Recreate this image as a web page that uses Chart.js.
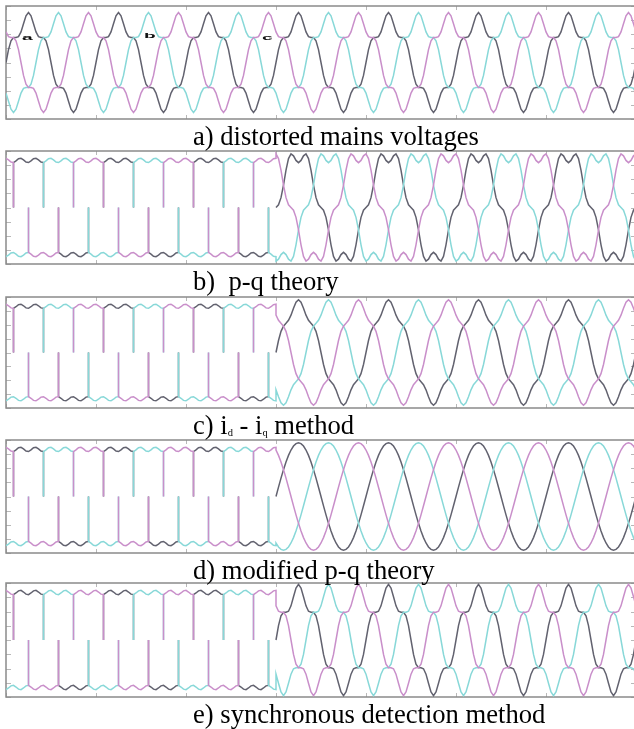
<!DOCTYPE html>
<html>
<head>
<meta charset="utf-8">
<script src="https://cdn.jsdelivr.net/npm/chart.js@4.4.1/dist/chart.umd.min.js"></script>
<style>
html, body { margin: 0; padding: 0; background: #fff; overflow: hidden; width: 634px; height: 729px; }
canvas { position: absolute; left: 0; }
.cap { position: absolute; left: 193px; font-family: "Liberation Serif", "Times New Roman", serif; font-size: 28px; line-height: 28px; color: #000; white-space: pre; transform: scaleX(0.95); transform-origin: 0 0; }
.cap sub { font-size: 11px; vertical-align: -2px; line-height: 0; }
.lbl { position: absolute; font: bold 12px "Liberation Sans", Arial, sans-serif; color: #111; transform: scale(1.6, 0.6); transform-origin: 0 0; }
</style>
</head>
<body>
<canvas id="pa" width="640" height="117" style="top:4px"></canvas>
<canvas id="pb" width="640" height="117" style="top:149px"></canvas>
<canvas id="pc" width="640" height="115" style="top:295px"></canvas>
<canvas id="pd" width="640" height="117" style="top:438px"></canvas>
<canvas id="pe" width="640" height="118" style="top:581px"></canvas>

<div class="cap" style="top:122px">a) distorted mains voltages</div>
<div class="cap" style="top:267px">b)  p-q theory</div>
<div class="cap" style="top:411px">c) i<sub>d</sub> - i<sub>q</sub> method</div>
<div class="cap" style="top:556px">d) modified p-q theory</div>
<div class="cap" style="top:700px">e) synchronous detection method</div>

<span class="lbl" style="left:22px;top:33px">a</span>
<span class="lbl" style="left:144px;top:31px">b</span>
<span class="lbl" style="left:262px;top:33px">c</span>

<script>
// time axis: 7 mains cycles of 20 ms
const cycle = 0.02;
const cycles = 7;
const compStart = 3; // filter switched on after 3 cycles
const xTicks = [0, 0.02, 0.04, 0.06, 0.08, 0.1, 0.12, 0.14];
const yTicks = [-1.2, -0.9, -0.6, -0.3, 0, 0.3, 0.6, 0.9, 1.2];

// phase a, b, c
const phaseColors = ["#62626f", "#88d8d8", "#c98fca"];
const phaseShifts = [0, 120, 240];

// phase a, first half cycle in 10 degree steps (0..170), negative half mirrors it
const mainsHalf = [0, .275, .461, .530, .530, .549, .651, .824, .991, 1.06, .991, .824, .651, .549, .530, .530, .461, .275];
const pqHalf = [0, .058, .209, .476, .792, 1.039, 1.14, 1.098, 1.0, .953, 1.0, 1.098, 1.14, 1.039, .792, .476, .209, .058];
const idiqHalf = [0, .26, .457, .57, .631, .696, .807, .956, 1.087, 1.14, 1.087, .956, .807, .696, .631, .57, .457, .26];
const modPqHalf = [0, .198, .39, .57, .733, .873, .987, 1.071, 1.123, 1.14, 1.123, 1.071, .987, .873, .733, .57, .39, .198];
const syncHalf = [0, .304, .509, .585, .585, .606, .719, .91, 1.094, 1.17, 1.094, .91, .719, .606, .585, .585, .509, .304];

// load current of phase a per 30 degree sector, and its ripple (60 degree period, 10 degree steps)
const loadSectors = [0, 1, 1, 1, 1, 0, 0, -1, -1, -1, -1, 0];
const loadRipple = [0.045, 0.01, -0.035, -0.045, -0.01, 0.035];

function mod(a, n) { return ((a % n) + n) % n; }

function shapeAt(half, deg) {
  const k = mod(deg, 360) / 10;
  return k < 18 ? half[k] : -half[k - 18];
}

function loadAt(deg, shift) {
  return loadSectors[Math.floor(mod(deg - shift, 360) / 30)];
}

function mainsSeries(half, shift) {
  const pts = [];
  for (let d = 0; d <= cycles * 360; d += 10) {
    pts.push({ x: d / 360 * cycle, y: shapeAt(half, d - shift) });
  }
  return pts;
}

// load current before the filter starts: the zero-current gaps are not drawn
function currentSeries(half, shift) {
  const pts = [];
  const end = compStart * 360;
  for (let d = 0; d <= end; d += 10) {
    const x = d / 360 * cycle;
    const r = loadRipple[mod(d / 10, 6)];
    const prev = loadAt(d - 10, shift);
    const level = d < end ? loadAt(d, shift) : prev;
    if (d > 0 && prev !== level) {
      if (prev !== 0) {
        pts.push({ x, y: prev * (1 + r) });
        pts.push({ x, y: 0 });
        if (level === 0) pts.push({ x, y: null });
      } else {
        pts.push({ x, y: 0 });
        pts.push({ x, y: level * (1 + r) });
      }
    } else {
      pts.push({ x, y: level === 0 ? null : level * (1 + r) });
    }
  }
  for (let d = end; d <= cycles * 360; d += 10) {
    pts.push({ x: d / 360 * cycle, y: shapeAt(half, d - shift) });
  }
  return pts;
}

const frameTicks = {
  id: "frameTicks",
  beforeDatasetsDraw(chart) {
    const { ctx, chartArea: a, scales: { x, y } } = chart;
    ctx.save();
    ctx.strokeStyle = "#b8b8b8";
    ctx.lineWidth = 1;
    ctx.beginPath();
    xTicks.forEach(v => {
      const px = Math.round(x.getPixelForValue(v)) + 0.5;
      ctx.moveTo(px, a.top); ctx.lineTo(px, a.top + 4);
      ctx.moveTo(px, a.bottom); ctx.lineTo(px, a.bottom - 4);
    });
    yTicks.forEach(v => {
      const py = Math.round(y.getPixelForValue(v)) + 0.5;
      ctx.moveTo(a.left, py); ctx.lineTo(a.left + 5, py);
      ctx.moveTo(a.right, py); ctx.lineTo(a.right - 5, py);
    });
    ctx.stroke();
    ctx.strokeStyle = "#8a8a8a";
    ctx.lineWidth = 1.5;
    ctx.strokeRect(a.left, a.top, a.right - a.left, a.bottom - a.top);
    ctx.restore();
  }
};

function makeChart(id, seriesFn, half) {
  // magenta drawn on top, then cyan, then the dark phase
  const drawOrder = [2, 1, 0];
  new Chart(document.getElementById(id), {
    type: "line",
    data: {
      datasets: drawOrder.map(i => ({
        data: seriesFn(half, phaseShifts[i]),
        borderColor: phaseColors[i],
        borderWidth: 1.5,
        pointRadius: 0,
        tension: 0,
        spanGaps: false
      }))
    },
    options: {
      responsive: false,
      animation: false,
      devicePixelRatio: 1,
      events: [],
      layout: { padding: { left: 6, right: 4, top: 2, bottom: 2 } },
      scales: {
        x: { type: "linear", min: 0, max: cycles * cycle, display: false },
        y: { min: -1.2, max: 1.2, display: false }
      },
      plugins: { legend: { display: false }, tooltip: { enabled: false } }
    },
    plugins: [frameTicks]
  });
}

makeChart("pa", mainsSeries, mainsHalf);
makeChart("pb", currentSeries, pqHalf);
makeChart("pc", currentSeries, idiqHalf);
makeChart("pd", currentSeries, modPqHalf);
makeChart("pe", currentSeries, syncHalf);
</script>
</body>
</html>
